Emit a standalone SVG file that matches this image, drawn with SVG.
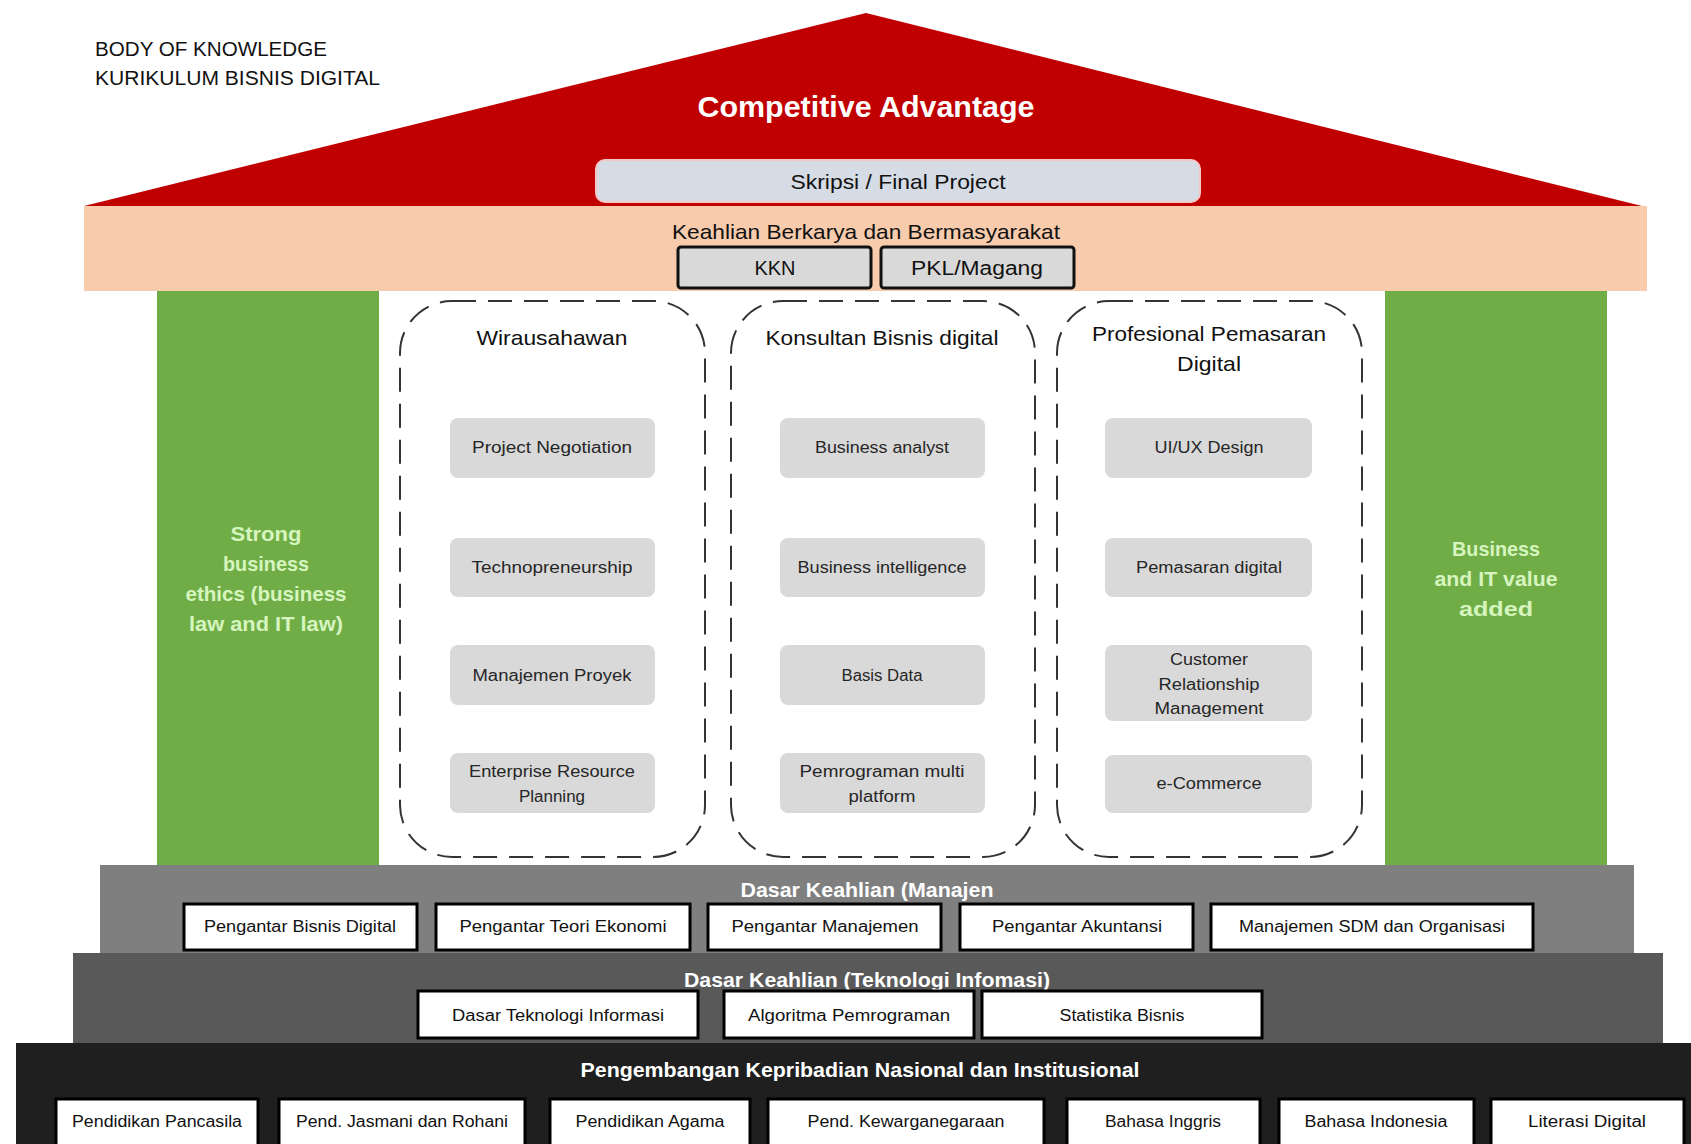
<svg xmlns="http://www.w3.org/2000/svg" width="1691" height="1144" viewBox="0 0 1691 1144">
<style>
text{font-family:"Liberation Sans",Arial,sans-serif;text-anchor:middle}
.ttl{font-size:20px;fill:#111;text-anchor:start}
.wh{fill:#fff;font-weight:bold}
.dk{fill:#111}
.pil{fill:#d6f5bf;font-weight:bold;font-size:21px}
.dash{fill:#fff;stroke:#333;stroke-width:2;stroke-dasharray:24 12}
.gb{fill:#d9d9d9}
.gt{font-size:16px;fill:#262626}
.wb{fill:#fff;stroke:#000;stroke-width:3}
.bt{font-size:16px;fill:#111}
</style>
<rect width="1691" height="1144" fill="#fff"/>
<g id="title">
<text class="ttl" x="95" y="56" textLength="232" lengthAdjust="spacingAndGlyphs">BODY OF KNOWLEDGE</text>
<text class="ttl" x="95" y="85" textLength="285" lengthAdjust="spacingAndGlyphs">KURIKULUM BISNIS DIGITAL</text>
</g>
<g id="roof">
<polygon points="866,13 84,206 1642,206" fill="#c00000"/>
<text class="wh" x="866" y="117" font-size="30" textLength="337" lengthAdjust="spacingAndGlyphs">Competitive Advantage</text>
</g>
<g id="skripsi">
<rect x="596" y="160" width="604" height="42" rx="9" fill="#d6dce5" stroke="#f4c7c7" stroke-width="2"/>
<text class="dk" x="898" y="189" font-size="21" textLength="215" lengthAdjust="spacingAndGlyphs">Skripsi / Final Project</text>
</g>
<g id="keahlian-berkarya">
<rect x="84" y="206" width="1563" height="85" fill="#f8cbad"/>
<text class="dk" x="866" y="239" font-size="21" textLength="388" lengthAdjust="spacingAndGlyphs">Keahlian Berkarya dan Bermasyarakat</text>
</g>
<g id="kkn">
<rect x="678" y="247" width="193" height="41" rx="3" fill="#d9d9d9" stroke="#111" stroke-width="3"/>
<text class="dk" x="775" y="275" font-size="20" textLength="41" lengthAdjust="spacingAndGlyphs">KKN</text>
</g>
<g id="pkl">
<rect x="881" y="247" width="193" height="41" rx="3" fill="#d9d9d9" stroke="#111" stroke-width="3"/>
<text class="dk" x="977" y="275" font-size="20" textLength="132" lengthAdjust="spacingAndGlyphs">PKL/Magang</text>
</g>
<g id="pillar-left">
<rect x="157" y="291" width="222" height="574" fill="#70ad47"/>
<text class="pil" x="266" y="541" textLength="71" lengthAdjust="spacingAndGlyphs">Strong</text>
<text class="pil" x="266" y="571" textLength="86" lengthAdjust="spacingAndGlyphs">business</text>
<text class="pil" x="266" y="601" textLength="161" lengthAdjust="spacingAndGlyphs">ethics (business</text>
<text class="pil" x="266" y="631" textLength="154" lengthAdjust="spacingAndGlyphs">law and IT law)</text>
</g>
<g id="pillar-right">
<rect x="1385" y="291" width="222" height="574" fill="#70ad47"/>
<text class="pil" x="1496" y="556" textLength="88" lengthAdjust="spacingAndGlyphs">Business</text>
<text class="pil" x="1496" y="586" textLength="123" lengthAdjust="spacingAndGlyphs">and IT value</text>
<text class="pil" x="1496" y="616" textLength="74" lengthAdjust="spacingAndGlyphs">added</text>
</g>
<g id="wirausahawan">
<rect class="dash" x="400" y="301" width="305" height="556" rx="52" ry="52"/>
<text class="dk" x="552" y="345" font-size="21" textLength="151" lengthAdjust="spacingAndGlyphs">Wirausahawan</text>
<rect class="gb" x="450" y="418" width="205" height="60" rx="8"/>
<text class="gt" x="552" y="453" textLength="160" lengthAdjust="spacingAndGlyphs">Project Negotiation</text>
<rect class="gb" x="450" y="538" width="205" height="59" rx="8"/>
<text class="gt" x="552" y="573" textLength="161" lengthAdjust="spacingAndGlyphs">Technopreneurship</text>
<rect class="gb" x="450" y="645" width="205" height="60" rx="8"/>
<text class="gt" x="552" y="681" textLength="159" lengthAdjust="spacingAndGlyphs">Manajemen Proyek</text>
<rect class="gb" x="450" y="753" width="205" height="60" rx="8"/>
<text class="gt" x="552" y="777" textLength="166" lengthAdjust="spacingAndGlyphs">Enterprise Resource</text>
<text class="gt" x="552" y="802" textLength="66" lengthAdjust="spacingAndGlyphs">Planning</text>
</g>
<g id="konsultan">
<rect class="dash" x="731" y="301" width="304" height="556" rx="52" ry="52"/>
<text class="dk" x="882" y="345" font-size="21" textLength="233" lengthAdjust="spacingAndGlyphs">Konsultan Bisnis digital</text>
<rect class="gb" x="780" y="418" width="205" height="60" rx="8"/>
<text class="gt" x="882" y="453" textLength="134" lengthAdjust="spacingAndGlyphs">Business analyst</text>
<rect class="gb" x="780" y="538" width="205" height="59" rx="8"/>
<text class="gt" x="882" y="573" textLength="169" lengthAdjust="spacingAndGlyphs">Business intelligence</text>
<rect class="gb" x="780" y="645" width="205" height="60" rx="8"/>
<text class="gt" x="882" y="681" textLength="81" lengthAdjust="spacingAndGlyphs">Basis Data</text>
<rect class="gb" x="780" y="753" width="205" height="60" rx="8"/>
<text class="gt" x="882" y="777" textLength="165" lengthAdjust="spacingAndGlyphs">Pemrograman multi</text>
<text class="gt" x="882" y="802" textLength="67" lengthAdjust="spacingAndGlyphs">platform</text>
</g>
<g id="profesional">
<rect class="dash" x="1057" y="301" width="305" height="556" rx="52" ry="52"/>
<text class="dk" x="1209" y="341" font-size="21" textLength="234" lengthAdjust="spacingAndGlyphs">Profesional Pemasaran</text>
<text class="dk" x="1209" y="371" font-size="21" textLength="64" lengthAdjust="spacingAndGlyphs">Digital</text>
<rect class="gb" x="1105" y="418" width="207" height="60" rx="8"/>
<text class="gt" x="1209" y="453" textLength="109" lengthAdjust="spacingAndGlyphs">UI/UX Design</text>
<rect class="gb" x="1105" y="538" width="207" height="59" rx="8"/>
<text class="gt" x="1209" y="573" textLength="146" lengthAdjust="spacingAndGlyphs">Pemasaran digital</text>
<rect class="gb" x="1105" y="645" width="207" height="76" rx="8"/>
<text class="gt" x="1209" y="665" textLength="78" lengthAdjust="spacingAndGlyphs">Customer</text>
<text class="gt" x="1209" y="690" textLength="101" lengthAdjust="spacingAndGlyphs">Relationship</text>
<text class="gt" x="1209" y="714" textLength="109" lengthAdjust="spacingAndGlyphs">Management</text>
<rect class="gb" x="1105" y="755" width="207" height="58" rx="8"/>
<text class="gt" x="1209" y="789" textLength="105" lengthAdjust="spacingAndGlyphs">e-Commerce</text>
</g>
<g id="dasar-manajemen">
<rect x="100" y="865" width="1534" height="88" fill="#7f7f7f"/>
<text class="wh" x="867" y="897" font-size="20" textLength="253" lengthAdjust="spacingAndGlyphs">Dasar Keahlian (Manajen</text>
<rect class="wb" x="184" y="904" width="233" height="46"/>
<text class="bt" x="300" y="932" textLength="192" lengthAdjust="spacingAndGlyphs">Pengantar Bisnis Digital</text>
<rect class="wb" x="436" y="904" width="254" height="46"/>
<text class="bt" x="563" y="932" textLength="207" lengthAdjust="spacingAndGlyphs">Pengantar Teori Ekonomi</text>
<rect class="wb" x="708" y="904" width="233" height="46"/>
<text class="bt" x="825" y="932" textLength="187" lengthAdjust="spacingAndGlyphs">Pengantar Manajemen</text>
<rect class="wb" x="960" y="904" width="233" height="46"/>
<text class="bt" x="1077" y="932" textLength="170" lengthAdjust="spacingAndGlyphs">Pengantar Akuntansi</text>
<rect class="wb" x="1211" y="904" width="322" height="46"/>
<text class="bt" x="1372" y="932" textLength="266" lengthAdjust="spacingAndGlyphs">Manajemen SDM dan Organisasi</text>
</g>
<g id="dasar-ti">
<rect x="73" y="953" width="1590" height="90" fill="#595959"/>
<text class="wh" x="867" y="987" font-size="20" textLength="366" lengthAdjust="spacingAndGlyphs">Dasar Keahlian (Teknologi Infomasi)</text>
<rect class="wb" x="418" y="991" width="280" height="47"/>
<text class="bt" x="558" y="1021" textLength="212" lengthAdjust="spacingAndGlyphs">Dasar Teknologi Informasi</text>
<rect class="wb" x="724" y="991" width="250" height="47"/>
<text class="bt" x="849" y="1021" textLength="202" lengthAdjust="spacingAndGlyphs">Algoritma Pemrograman</text>
<rect class="wb" x="982" y="991" width="280" height="47"/>
<text class="bt" x="1122" y="1021" textLength="125" lengthAdjust="spacingAndGlyphs">Statistika Bisnis</text>
</g>
<g id="pengembangan">
<rect x="16" y="1043" width="1675" height="101" fill="#1f1f1f"/>
<text class="wh" x="860" y="1077" font-size="21" font-weight="normal" textLength="559" lengthAdjust="spacingAndGlyphs">Pengembangan Kepribadian Nasional dan Institusional</text>
<rect class="wb" x="56" y="1099" width="202" height="50"/>
<text class="bt" x="157" y="1127" textLength="170" lengthAdjust="spacingAndGlyphs">Pendidikan Pancasila</text>
<rect class="wb" x="279" y="1099" width="246" height="50"/>
<text class="bt" x="402" y="1127" textLength="212" lengthAdjust="spacingAndGlyphs">Pend. Jasmani dan Rohani</text>
<rect class="wb" x="550" y="1099" width="200" height="50"/>
<text class="bt" x="650" y="1127" textLength="149" lengthAdjust="spacingAndGlyphs">Pendidikan Agama</text>
<rect class="wb" x="768" y="1099" width="276" height="50"/>
<text class="bt" x="906" y="1127" textLength="197" lengthAdjust="spacingAndGlyphs">Pend. Kewarganegaraan</text>
<rect class="wb" x="1067" y="1099" width="193" height="50"/>
<text class="bt" x="1163" y="1127" textLength="116" lengthAdjust="spacingAndGlyphs">Bahasa Inggris</text>
<rect class="wb" x="1279" y="1099" width="195" height="50"/>
<text class="bt" x="1376" y="1127" textLength="143" lengthAdjust="spacingAndGlyphs">Bahasa Indonesia</text>
<rect class="wb" x="1491" y="1099" width="193" height="50"/>
<text class="bt" x="1587" y="1127" textLength="118" lengthAdjust="spacingAndGlyphs">Literasi Digital</text>
</g>
</svg>
